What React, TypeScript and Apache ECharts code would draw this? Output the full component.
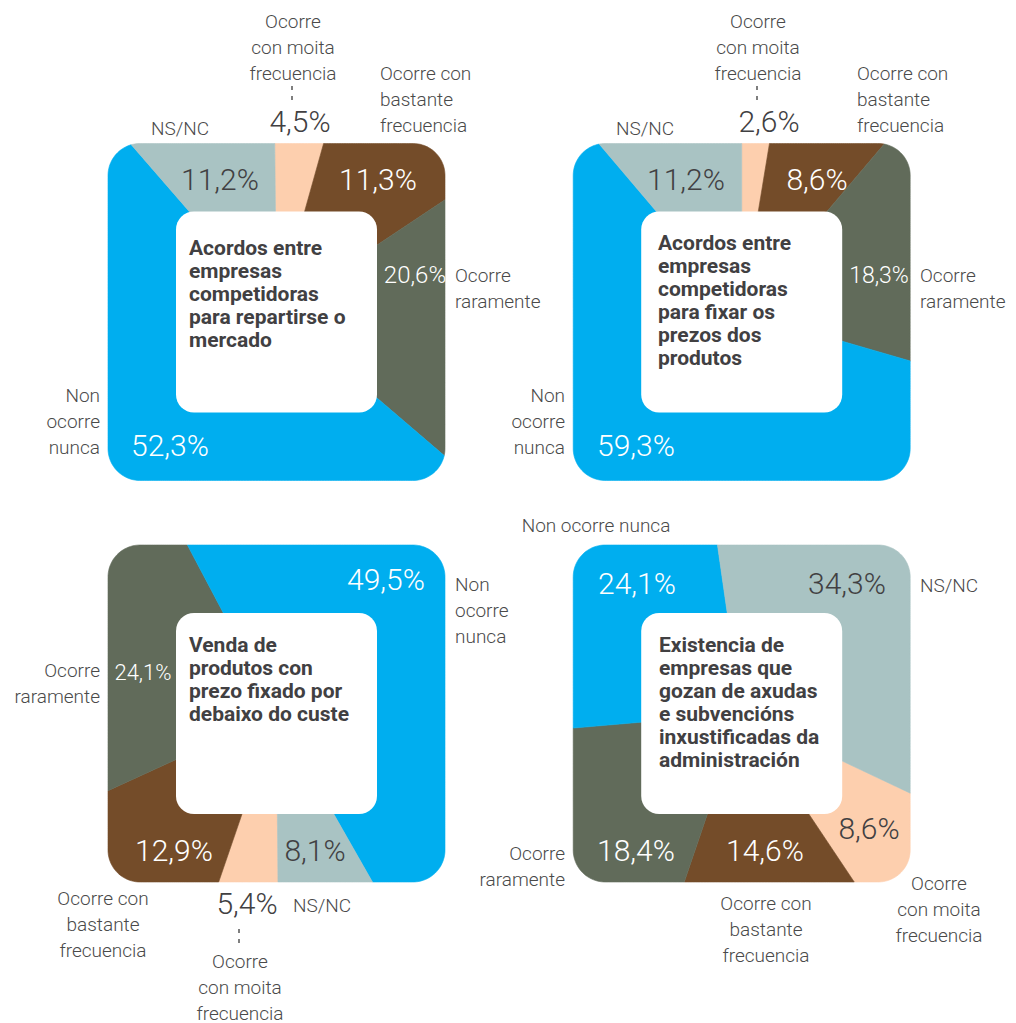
import React, { useEffect, useRef } from "react";
import * as echarts from "echarts";

// ---------- DATA ----------
const categories = [
  "Ocorre con moita frecuencia",
  "Ocorre con bastante frecuencia",
  "Ocorre raramente",
  "Non ocorre nunca",
  "NS/NC",
];
const repartirMercado = [4.5, 11.3, 20.6, 52.3, 11.2];
const fixarPrezos = [2.6, 8.6, 18.3, 59.3, 11.2];
const vendaBaixoCuste = [5.4, 12.9, 24.1, 49.5, 8.1];
const axudasInxustificadas = [8.6, 14.6, 18.4, 24.1, 34.3];
const titles = [
  "Acordos entre\nempresas\ncompetidoras\npara repartirse o\nmercado",
  "Acordos entre\nempresas\ncompetidoras\npara fixar os\nprezos dos\nprodutos",
  "Venda de\nprodutos con\nprezo fixado por\ndebaixo do custe",
  "Existencia de\nempresas que\ngozan de axudas\ne subvencións\ninxustificadas da\nadministración",
];
const catLabelTexts = [
  "Ocorre\ncon moita\nfrecuencia",
  "Ocorre con\nbastante\nfrecuencia",
  "Ocorre\nraramente",
  "Non\nocorre\nnunca",
  "NS/NC",
];

// ---------- STYLE / LAYOUT ----------
const FONT = "Roboto, 'Open Sans', sans-serif";
const sliceColors = ["#FDCFAE", "#744C29", "#616B5A", "#00AEEF", "#A9C3C3"];
const valueTextColors = ["#414042", "#ffffff", "#ffffff", "#ffffff", "#414042"];
const labelColor = "#4a4a4a";
const H = 168.5; // half size of outer square
const R = 32; // outer corner radius
const INNER = 201;
const INNER_R = 18;

type Align = "left" | "center" | "right";
interface Panel {
  values: number[];
  cx: number;
  cy: number;
  start: number;
  titleX: number;
  titleY: number;
  valuePos: number[][];
  valueSize: number[];
  catPos: [number, number, Align][];
  catText?: string[];
  dash?: number[];
}

const panels: Panel[] = [
  {
    values: repartirMercado,
    cx: 276.5,
    cy: 312,
    start: -0.6,
    titleX: 189,
    titleY: 248,
    valuePos: [[300, 121], [378, 179], [415, 275], [170, 445], [220, 179]],
    valueSize: [30, 30, 24, 30, 30],
    catPos: [[293, 21, "center"], [380, 73, "left"], [455, 275, "left"], [100, 395, "right"], [180, 128, "center"]],
    dash: [292, 86, 102],
  },
  {
    values: fixarPrezos,
    cx: 741.7,
    cy: 312,
    start: 0,
    titleX: 658,
    titleY: 243,
    valuePos: [[769, 121], [817, 179], [879, 275], [636, 445], [686, 179]],
    valueSize: [30, 30, 23, 30, 30],
    catPos: [[758, 21, "center"], [857, 73, "left"], [920, 275, "left"], [565, 395, "right"], [645, 128, "center"]],
    dash: [757, 86, 102],
  },
  {
    values: vendaBaixoCuste,
    cx: 276.5,
    cy: 713.5,
    start: 179.5,
    titleX: 189,
    titleY: 645,
    valuePos: [[247, 903], [174, 850], [143, 672], [386, 579], [315, 850]],
    valueSize: [30, 30, 22, 30, 30],
    catPos: [[240, 961, "center"], [103, 898, "center"], [100, 670, "right"], [455, 584, "left"], [293, 905, "left"]],
    dash: [239, 929, 948],
  },
  {
    values: axudasInxustificadas,
    cx: 741.7,
    cy: 713.5,
    start: 115.3,
    titleX: 659,
    titleY: 645,
    valuePos: [[869, 828], [765, 850], [636, 850], [637, 583], [847, 583]],
    valueSize: [30, 30, 30, 30, 30],
    catPos: [[939, 883, "center"], [766, 903, "center"], [565, 853, "right"], [596, 525, "center"], [920, 585, "left"]],
    catText: [
      "Ocorre\ncon moita\nfrecuencia",
      "Ocorre con\nbastante\nfrecuencia",
      "Ocorre\nraramente",
      "Non ocorre nunca",
      "NS/NC",
    ],
  },
];

function fmt(v: number) {
  return v.toFixed(1).replace(".", ",") + "%";
}

function boundaryPoint(cx: number, cy: number, deg: number) {
  const a = (deg * Math.PI) / 180;
  const dx = Math.sin(a);
  const dy = -Math.cos(a);
  const t0 = H / Math.max(Math.abs(dx), Math.abs(dy));
  let px = t0 * dx;
  let py = t0 * dy;
  const k = H - R;
  if (Math.abs(px) > k && Math.abs(py) > k) {
    const ccx = Math.sign(px) * k;
    const ccy = Math.sign(py) * k;
    const b = dx * ccx + dy * ccy;
    const c = ccx * ccx + ccy * ccy - R * R;
    const t = b + Math.sqrt(Math.max(0, b * b - c));
    px = t * dx;
    py = t * dy;
  }
  return [cx + px, cy + py];
}

function makeSeries(p: Panel) {
  const total = p.values.reduce((s, v) => s + v, 0);
  const angles: number[][] = [];
  let acc = p.start;
  p.values.forEach((v) => {
    const span = (v / total) * 360;
    angles.push([acc, acc + span]);
    acc += span;
  });
  return {
    type: "custom",
    coordinateSystem: "none",
    silent: true,
    data: p.values.map((v, i) => ({ value: v, name: categories[i] })),
    renderItem: (params: any, api: any) => {
      const i = params.dataIndex;
      const v = api.value(0);
      const [a0, a1] = angles[i];
      const pts: number[][] = [[p.cx, p.cy]];
      for (let a = a0; a < a1; a += 0.5) pts.push(boundaryPoint(p.cx, p.cy, a));
      pts.push(boundaryPoint(p.cx, p.cy, a1));
      const [lx, ly] = p.valuePos[i];
      return {
        type: "group",
        children: [
          {
            type: "polygon",
            shape: { points: pts },
            style: { fill: sliceColors[i], stroke: sliceColors[i], lineWidth: 0.6 },
          },
          {
            type: "text",
            x: lx,
            y: ly,
            z2: 10,
            style: {
              text: fmt(v),
              fill: valueTextColors[i],
              font: `300 ${p.valueSize[i]}px ${FONT}`,
              align: "center",
              verticalAlign: "middle",
            },
          },
        ],
      };
    },
  };
}

function makeGraphics() {
  const els: any[] = [];
  panels.forEach((p, pi) => {
    els.push({
      type: "rect",
      z: 100,
      shape: { x: p.cx - INNER / 2, y: p.cy - INNER / 2, width: INNER, height: INNER, r: INNER_R },
      style: { fill: "#ffffff" },
    });
    els.push({
      type: "text",
      z: 101,
      x: p.titleX,
      y: p.titleY - 11.5,
      style: {
        text: titles[pi],
        font: `bold 21px ${FONT}`,
        fill: "#414042",
        lineHeight: 23,
        align: "left",
        verticalAlign: "top",
      },
    });
    const texts = p.catText || catLabelTexts;
    p.catPos.forEach(([x, y, al], i) => {
      els.push({
        type: "text",
        z: 101,
        x,
        y: y - 13,
        style: {
          text: texts[i],
          font: `300 19px ${FONT}`,
          fill: labelColor,
          lineHeight: 26,
          align: al,
          verticalAlign: "top",
        },
      });
    });
    if (p.dash) {
      els.push({
        type: "line",
        z: 101,
        shape: { x1: p.dash[0], y1: p.dash[1], x2: p.dash[0], y2: p.dash[2] },
        style: { stroke: "#555555", lineWidth: 1.5, lineDash: [4, 6] },
      });
    }
  });
  return els;
}

export default function App() {
  const ref = useRef<HTMLDivElement>(null);
  useEffect(() => {
    if (!ref.current) return;
    const chart = echarts.init(ref.current, undefined, { renderer: "svg" });
    chart.setOption({
      animation: false,
      backgroundColor: "#ffffff",
      series: panels.map(makeSeries),
      graphic: { elements: makeGraphics() },
    });
    return () => chart.dispose();
  }, []);
  return (
    <div
      ref={ref}
      style={{ position: "fixed", left: 0, top: 0, width: 1016, height: 1023, background: "#fff" }}
    />
  );
}
